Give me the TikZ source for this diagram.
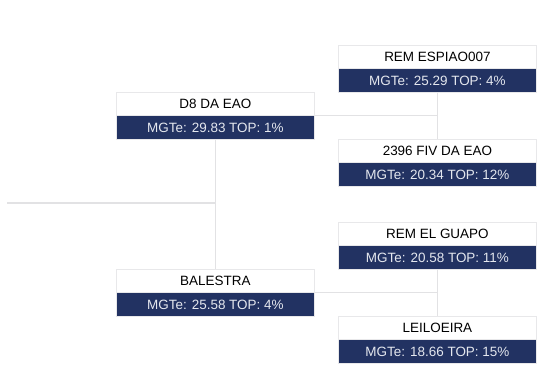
\documentclass[tikz,border=0pt]{standalone}
\usepackage{fontspec}
\setmainfont{Liberation Sans}
\definecolor{navy}{RGB}{34,50,98}
\definecolor{boxline}{RGB}{232,232,234}
\definecolor{conn}{RGB}{226,226,228}
\definecolor{valtext}{RGB}{228,231,238}
\begin{document}
\begin{tikzpicture}[x=0.75pt,y=-0.75pt,
  ttl/.style={draw=boxline, fill=white, line width=0.6pt, minimum width=148.5pt,
    minimum height=16.9pt, inner sep=0pt, anchor=north west,
    font=\fontsize{10.1}{12}\selectfont, text=black},
  val/.style={draw=boxline, fill=navy, line width=0.6pt, minimum width=148.5pt,
    minimum height=17.6pt, inner sep=0pt, anchor=north,
    font=\fontsize{10.1}{12}\selectfont, text=valtext},
  conn/.style={draw=conn, line width=0.8pt}
]
\useasboundingbox (0,0) rectangle (559,385);

% top group
\node[ttl] (remt) at (338,45) {REM ESPIAO007};
\node[val] (remv) at (remt.south) {MGTe: 25.29 TOP: 4\%};
\node[ttl] (d8t) at (116,92) {D8 DA EAO};
\node[val] (d8v) at (d8t.south) {MGTe: 29.83 TOP: 1\%};
\node[ttl] (fivt) at (338,139) {2396 FIV DA EAO};
\node[val] (fivv) at (fivt.south) {MGTe: 20.34 TOP: 12\%};

% bottom group
\node[ttl] (guat) at (338,222) {REM EL GUAPO};
\node[val] (guav) at (guat.south) {MGTe: 20.58 TOP: 11\%};
\node[ttl] (balt) at (116,269) {BALESTRA};
\node[val] (balv) at (balt.south) {MGTe: 25.58 TOP: 4\%};
\node[ttl] (leit) at (338,316) {LEILOEIRA};
\node[val] (leiv) at (leit.south) {MGTe: 18.66 TOP: 15\%};

\coordinate (root) at (7,203);

% connectors
\draw[conn] (root) -- (root -| d8v.south);
\draw[conn] (d8v.south) -- (balt.north);
\draw[conn] (remv.south) -- (fivt.north);
\draw[conn] (d8v.north east) -- (d8v.north east -| remv.south);
\draw[conn] (guav.south) -- (leit.north);
\draw[conn] (balv.north east) -- (balv.north east -| guav.south);
\end{tikzpicture}
\end{document}
